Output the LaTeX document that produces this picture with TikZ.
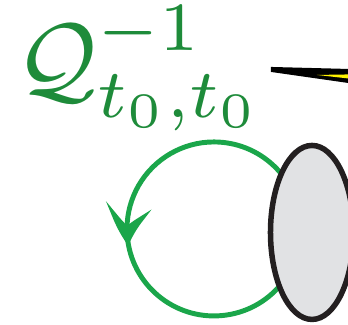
\documentclass[tikz,border=0pt]{standalone}
\usepackage{amsmath}
\usepackage{amssymb}
\usepackage{xcolor}
\usepackage{tikz}
\usetikzlibrary{arrows.meta, bending}

\definecolor{loopgreen}{HTML}{1AA64A}
\definecolor{labelgreen}{HTML}{1E8B3A}
\definecolor{blobgray}{HTML}{E1E2E4}
\definecolor{blobline}{HTML}{231F20}

\tikzset{
  loopline/.style={draw=loopgreen, line width=0.52pt},
  blob/.style={draw=blobline, fill=blobgray, line width=0.58pt},
}

\begin{document}
\begin{tikzpicture}[x=0.1053pt, y=0.1053pt]

\path[use as bounding box, clip] (0,0) rectangle (348,325);

% self-energy loop
\draw [loopline, -{Stealth[length=4.2pt, width=4.8pt, inset=2.1pt, bend]}] (214,96) ++(90:87) arc (90:191:87);
\draw [loopline] (214,96) ++(185:87) arc (185:450:87);

% vertex blob
\draw [blob] (312,92.5) ellipse (41.5 and 87);

% incoming line
\fill [black] (271,258) -- (348,256) -- (348,242) -- (271,253) -- cycle;
\fill [yellow] (317,250) -- (348,250.5) -- (348,246.5) -- cycle;

\node [labelgreen, anchor=base west, inner sep=0pt, scale=1.04] (qlabel) at (15,232) {$\mathcal{Q}^{-1}_{t_0,t_0}$};

\end{tikzpicture}
\end{document}
